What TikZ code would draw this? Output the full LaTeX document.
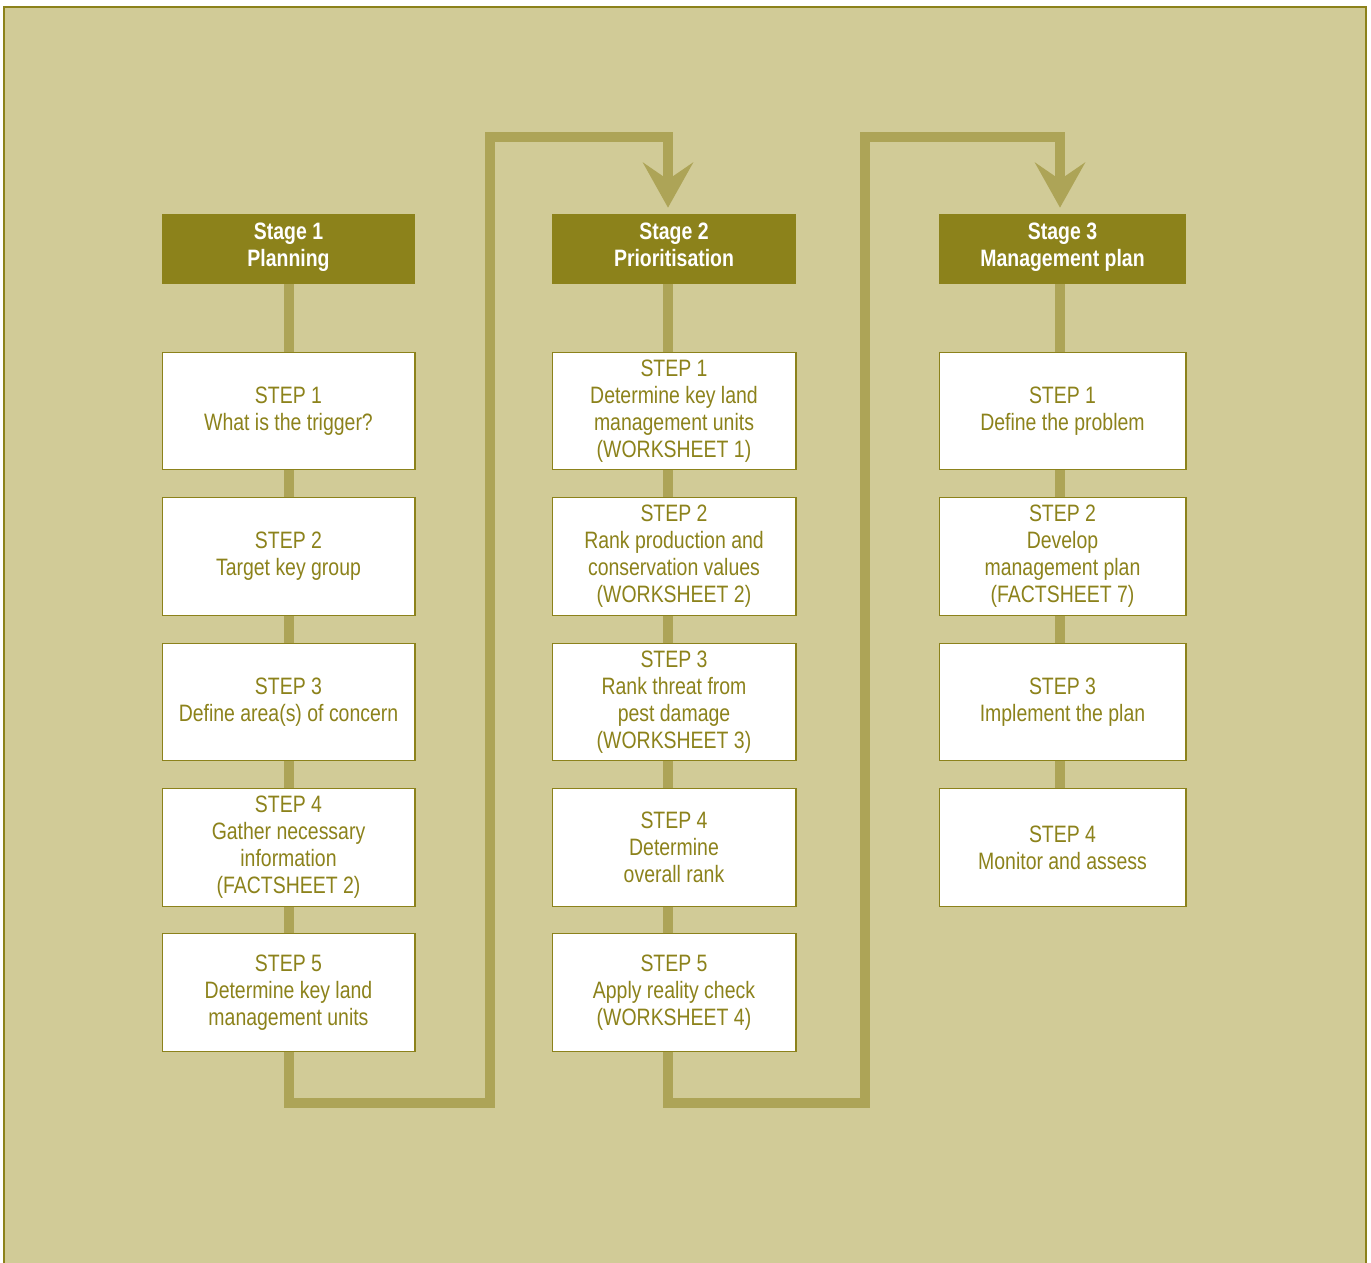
\documentclass[tikz,border=0pt]{standalone}
\usepackage{fontspec}
\setmainfont{Liberation Sans}[FakeStretch=0.82]
\usetikzlibrary{arrows.meta, positioning}
\definecolor{paper}{HTML}{D1CB97}
\definecolor{olive}{HTML}{8C821B}
\definecolor{wire}{HTML}{ADA457}
\tikzset{
  stagebox/.style={fill=olive, text=white, align=center, inner sep=0pt,
    minimum height=1.4cm, font=\fontsize{13.5}{15.4}\selectfont\bfseries,
    execute at end node=\strut},
  stepbox/.style={draw=olive, line width=0.6pt, fill=white, text=olive,
    align=center, inner sep=0pt, minimum height=2.35cm,
    font=\fontsize{13.5}{15.4}\selectfont},
  wireline/.style={draw=wire, line width=0.2cm},
  bigtip/.style={-{Stealth[length=0.9cm, width=1cm, inset=0.34cm]},
    shorten >=0.12cm}
}

\begin{document}
\begin{tikzpicture}[x=0.02cm, y=-0.02cm]
  \path[use as bounding box] (0,0) rectangle (1371,1262);
  \draw[olive, line width=0.6pt, fill=paper] (4,7) rectangle (1366,1275);

  % stage headers
  \node[stagebox, minimum width=5.06cm] (s1) at (288.5,249) {Stage 1\\Planning};
  \node[stagebox, minimum width=4.88cm] (s2) at (674,249) {Stage 2\\Prioritisation};
  \node[stagebox, minimum width=4.94cm] (s3) at (1062.5,249) {Stage 3\\Management plan};

  % stage 1 steps
  \node[stepbox, minimum width=5.06cm] (a1) at (288.5,411) {STEP 1\\What is the trigger?};
  \node[stepbox, minimum width=5.06cm] (a2) at (288.5,556.5) {STEP 2\\Target key group};
  \node[stepbox, minimum width=5.06cm] (a3) at (288.5,702) {STEP 3\\Define area(s) of concern};
  \node[stepbox, minimum width=5.06cm] (a4) at (288.5,847.5)
    {STEP 4\\Gather necessary\\information\\(FACTSHEET 2)};
  \node[stepbox, minimum width=5.06cm] (a5) at (288.5,992.5)
    {STEP 5\\Determine key land\\management units};

  % stage 2 steps
  \node[stepbox, minimum width=4.88cm] (b1) at (674,411)
    {STEP 1\\Determine key land\\management units\\(WORKSHEET 1)};
  \node[stepbox, minimum width=4.88cm] (b2) at (674,556.5)
    {STEP 2\\Rank production and\\conservation values\\(WORKSHEET 2)};
  \node[stepbox, minimum width=4.88cm] (b3) at (674,702)
    {STEP 3\\Rank threat from\\pest damage\\(WORKSHEET 3)};
  \node[stepbox, minimum width=4.88cm] (b4) at (674,847.5)
    {STEP 4\\Determine\\overall rank};
  \node[stepbox, minimum width=4.88cm] (b5) at (674,992.5)
    {STEP 5\\Apply reality check\\(WORKSHEET 4)};

  % stage 3 steps
  \node[stepbox, minimum width=4.94cm] (c1) at (1062.5,411) {STEP 1\\Define the problem};
  \node[stepbox, minimum width=4.94cm] (c2) at (1062.5,556.5)
    {STEP 2\\Develop\\management plan\\(FACTSHEET 7)};
  \node[stepbox, minimum width=4.94cm] (c3) at (1062.5,702) {STEP 3\\Implement the plan};
  \node[stepbox, minimum width=4.94cm] (c4) at (1062.5,847.5) {STEP 4\\Monitor and assess};

  % links inside each stage
  \foreach \u/\v in {s1/a1, a1/a2, a2/a3, a3/a4, a4/a5}
    \draw[wireline] (\u.south) -- (\v.north);
  \foreach \u/\v in {s2/b1, b1/b2, b2/b3, b3/b4, b4/b5}
    \draw[wireline] ([xshift=-0.12cm]\u.south) -- ([xshift=-0.12cm]\v.north);
  \foreach \u/\v in {s3/c1, c1/c2, c2/c3, c3/c4}
    \draw[wireline] ([xshift=-0.05cm]\u.south) -- ([xshift=-0.05cm]\v.north);

  % links between stages
  \draw[wireline, bigtip] (a5.south) |- (490,1103) -- (490,137)
    -| ([xshift=-0.12cm]s2.north);
  \draw[wireline, bigtip] ([xshift=-0.12cm]b5.south) |- (865,1103) -- (865,137)
    -| ([xshift=-0.05cm]s3.north);
\end{tikzpicture}
\end{document}
